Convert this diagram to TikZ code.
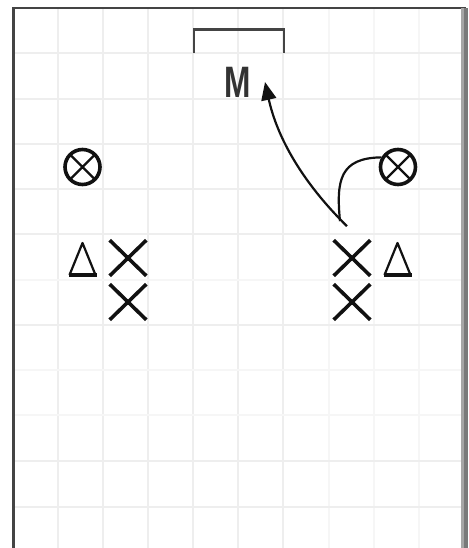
\documentclass[tikz,border=0pt]{standalone}
\usepackage{fontspec}
\setmainfont{Liberation Sans}
\usetikzlibrary{shapes.misc,arrows.meta}
\definecolor{grida}{HTML}{EEEEEE}
\definecolor{gridb}{HTML}{F6F6F6}
\definecolor{framec}{HTML}{444444}
\definecolor{ink}{HTML}{111111}
\definecolor{labelc}{HTML}{333333}
\begin{document}
\begin{tikzpicture}[x=1pt,y=-1pt,
  gridline/.style={line width=2pt,draw=grida},
  gridlight/.style={line width=2pt,draw=gridb},
  player/.style={draw=ink,cross out,line width=3.6pt,minimum width=33pt,minimum height=32pt,inner sep=0pt},
  ball/.style={draw=ink,circle,line width=3.6pt,minimum size=35pt,inner sep=0pt,
    path picture={\draw[ink,line width=2.2pt]
      ([xshift=-20pt,yshift=-20pt]path picture bounding box.center) -- ([xshift=20pt,yshift=20pt]path picture bounding box.center)
      ([xshift=-20pt,yshift=20pt]path picture bounding box.center) -- ([xshift=20pt,yshift=-20pt]path picture bounding box.center);}},
  cone/.style={minimum width=40pt,minimum height=44pt,inner sep=0pt,
    path picture={
      \draw[ink,line width=2.2pt,line join=round]
        ([xshift=-13pt,yshift=-16pt]path picture bounding box.center) -- ([yshift=16pt]path picture bounding box.center) -- ([xshift=13pt,yshift=-16pt]path picture bounding box.center);
      \draw[ink,line width=3.6pt]
        ([xshift=-14pt,yshift=-16pt]path picture bounding box.center) -- ([xshift=14pt,yshift=-16pt]path picture bounding box.center);}},
  goalline/.style={draw=framec,line width=2.5pt},
  run/.style={draw=ink,line width=2.2pt},
  label/.style={font=\fontsize{44}{44}\selectfont\bfseries,text=labelc,inner sep=0pt,xscale=0.72}
]
% canvas
\fill[white] (0,0) rectangle (468,548);
\useasboundingbox (0,0) rectangle (468,548);
% grid
\foreach \x in {58,103,148,193,238,283} \draw[gridline] (\x,9) -- (\x,548);
\foreach \x in {329,374,419} \draw[gridlight] (\x,9) -- (\x,548);
\foreach \y in {53.5,99,144,189,234,325,461,507} \draw[gridline] (14,\y) -- (461,\y);
\foreach \y in {280,370,415} \draw[gridlight] (14,\y) -- (461,\y);
% frame
\fill[framec] (12,7) rectangle (15,548);
\fill[framec] (12,7) rectangle (466,9.5);
\fill[black!35] (461,8) rectangle (464,548);
\fill[black!52] (464,8) rectangle (468,548);
% goal
\draw[goalline] (194,53.5) -- (194,29.5) -- (284,29.5) -- (284,53.5);
% label
\node[label] (m) at (238,82) {M};
% balls
\node[ball] (o1) at (82.5,167) {};
\node[ball] (o2) at (398,167) {};
% cones
\node[cone] (t1) at (82.5,259) {};
\node[cone] (t2) at (397.5,259) {};
% players
\node[player] (x1) at (128,258) {};
\node[player] (x2) at (128,302) {};
\node[player] (x3) at (352,258) {};
\node[player] (x4) at (352,302) {};
% movements
\draw[run] (o2.150) .. controls (340,158) and (336,180) .. ([xshift=-12pt,yshift=19pt]x3.north);
\draw[run,-{Triangle[length=18pt,width=15pt]}] ([xshift=-5pt,yshift=14pt]x3.north) .. controls (302,182) and (277,137) .. ([xshift=27pt]m.center);
\end{tikzpicture}
\end{document}
